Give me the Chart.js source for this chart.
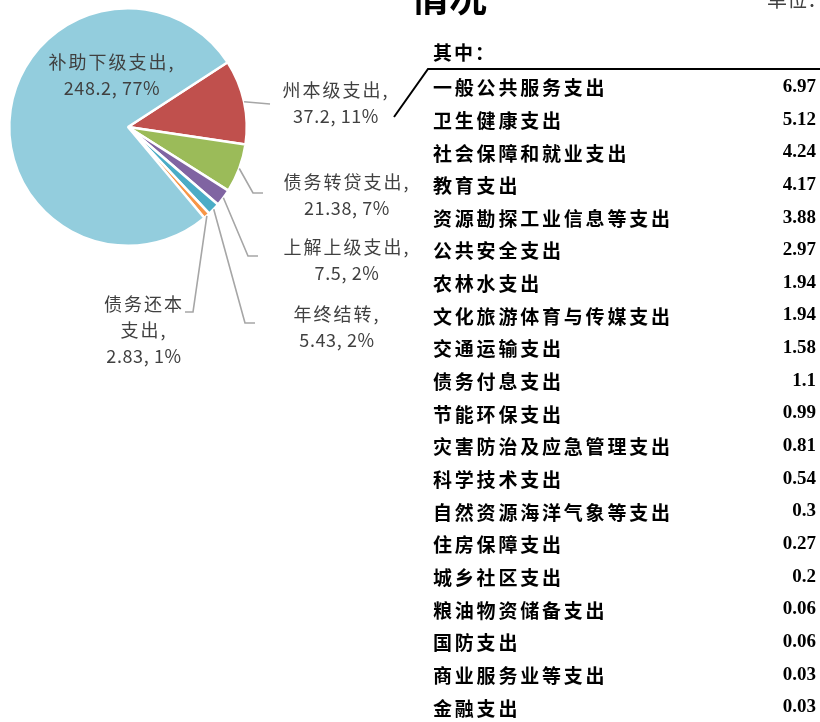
<!DOCTYPE html>
<html>
<head>
<meta charset="utf-8">
<script src="https://cdn.jsdelivr.net/npm/chart.js@4.4.0/dist/chart.umd.min.js"></script>
<style>
  html, body { margin: 0; padding: 0; background: #fff; }
  #wrap { position: relative; width: 820px; height: 722px; overflow: hidden; }
</style>
</head>
<body>
<div id="wrap"><canvas id="pie" width="820" height="722"></canvas></div>
<script>
// pie slices, clockwise from the 州本级 slice
const sliceNames = ['州本级支出', '债务转贷支出', '上解上级支出', '年终结转', '债务还本支出', '补助下级支出'];
const sliceValues = [37.2, 21.38, 7.5, 5.43, 2.83, 248.2];
const slicePercents = [11, 7, 2, 2, 1, 77];
const sliceColors = ['#c0504d', '#9bbb59', '#8064a2', '#4bacc6', '#f79646', '#93cddd'];

// "其中" breakdown list
const itemNames = [
  '一般公共服务支出', '卫生健康支出', '社会保障和就业支出', '教育支出', '资源勘探工业信息等支出',
  '公共安全支出', '农林水支出', '文化旅游体育与传媒支出', '交通运输支出', '债务付息支出',
  '节能环保支出', '灾害防治及应急管理支出', '科学技术支出', '自然资源海洋气象等支出', '住房保障支出',
  '城乡社区支出', '粮油物资储备支出', '国防支出', '商业服务业等支出', '金融支出'
];
const itemValues = [6.97, 5.12, 4.24, 4.17, 3.88, 2.97, 1.94, 1.94, 1.58, 1.1,
  0.99, 0.81, 0.54, 0.3, 0.27, 0.2, 0.06, 0.06, 0.03, 0.03];

// where each slice label sits, and the leader bends (canvas px)
const labelSpots = [
  { x: 336, y: 90, breakAt: 0, leader: [[270, 104]] },
  { x: 347, y: 182, breakAt: 0, leader: [[253, 193], [263, 193]] },
  { x: 347, y: 247, breakAt: 0, leader: [[248, 256], [258, 256]] },
  { x: 337, y: 314, breakAt: 0, leader: [[245, 323], [255, 323]] },
  { x: 144, y: 304, breakAt: 4, leader: [[193, 312], [185, 312]] },
  { x: 112, y: 62, breakAt: 0, leader: [] }
];

const labelFont = '18px "Noto Sans CJK SC", "Noto Sans"';
const lineGap = 26;

const sliceLabels = {
  id: 'sliceLabels',
  afterDatasetsDraw(chart) {
    const ctx = chart.ctx;
    const arcs = chart.getDatasetMeta(0).data;
    ctx.save();
    arcs.forEach((arc, i) => {
      const spot = labelSpots[i];
      const { x, y, startAngle, endAngle, outerRadius } =
        arc.getProps(['x', 'y', 'startAngle', 'endAngle', 'outerRadius'], true);
      const mid = (startAngle + endAngle) / 2;
      if (spot.leader.length) {
        ctx.beginPath();
        ctx.moveTo(x + Math.cos(mid) * outerRadius, y + Math.sin(mid) * outerRadius);
        spot.leader.forEach(p => ctx.lineTo(p[0], p[1]));
        ctx.strokeStyle = '#a6a6a6';
        ctx.lineWidth = 1.6;
        ctx.stroke();
      }
      const name = sliceNames[i];
      const lines = spot.breakAt
        ? [name.slice(0, spot.breakAt), name.slice(spot.breakAt) + ',']
        : [name + ','];
      lines.push(sliceValues[i] + ', ' + slicePercents[i] + '%');
      ctx.font = labelFont;
      ctx.fillStyle = '#404040';
      ctx.textAlign = 'center';
      ctx.textBaseline = 'middle';
      lines.forEach((t, k) => {
        ctx.letterSpacing = k < lines.length - 1 ? '2px' : '0.6px';
        ctx.fillText(t, spot.x, spot.y + k * lineGap);
      });
    });
    ctx.restore();
  },
  afterDraw(chart) {
    const ctx = chart.ctx;
    ctx.save();
    // cut-off title and unit
    ctx.fillStyle = '#000';
    ctx.textBaseline = 'middle';
    ctx.font = 'bold 38px "Noto Sans CJK SC"';
    ctx.fillText('情况', 411, -3);
    ctx.fillStyle = '#404040';
    ctx.font = '20px "Noto Sans CJK SC"';
    ctx.fillText('单位：', 767, -1);

    // callout line
    ctx.beginPath();
    ctx.moveTo(394, 117);
    ctx.lineTo(428, 69);
    ctx.lineTo(820, 69);
    ctx.strokeStyle = '#000';
    ctx.lineWidth = 2;
    ctx.stroke();

    ctx.fillStyle = '#000';
    ctx.font = 'bold 19px "Noto Sans CJK SC"';
    ctx.letterSpacing = '2px';
    ctx.fillText('其中：', 433, 53);

    const top = 88, rowH = 32.65;
    itemNames.forEach((n, i) => {
      ctx.textAlign = 'left';
      ctx.font = 'bold 19px "Noto Sans CJK SC"';
      ctx.letterSpacing = '2.8px';
      ctx.fillText(n, 433, top + i * rowH);
      ctx.textAlign = 'right';
      ctx.font = 'bold 19px "Liberation Serif"';
      ctx.letterSpacing = '0px';
      ctx.fillText(String(itemValues[i]), 816, top + i * rowH - 1);
    });
    ctx.restore();
  }
};

new Chart(document.getElementById('pie').getContext('2d'), {
  type: 'pie',
  data: {
    labels: sliceNames,
    datasets: [{
      data: sliceValues,
      backgroundColor: sliceColors,
      borderColor: '#fff',
      borderWidth: 2.5
    }]
  },
  options: {
    responsive: false,
    animation: false,
    rotation: 57,
    layout: { padding: { left: 8, top: 7, right: 572, bottom: 475 } },
    plugins: { legend: { display: false }, tooltip: { enabled: false } }
  },
  plugins: [sliceLabels]
});
</script>
</body>
</html>
